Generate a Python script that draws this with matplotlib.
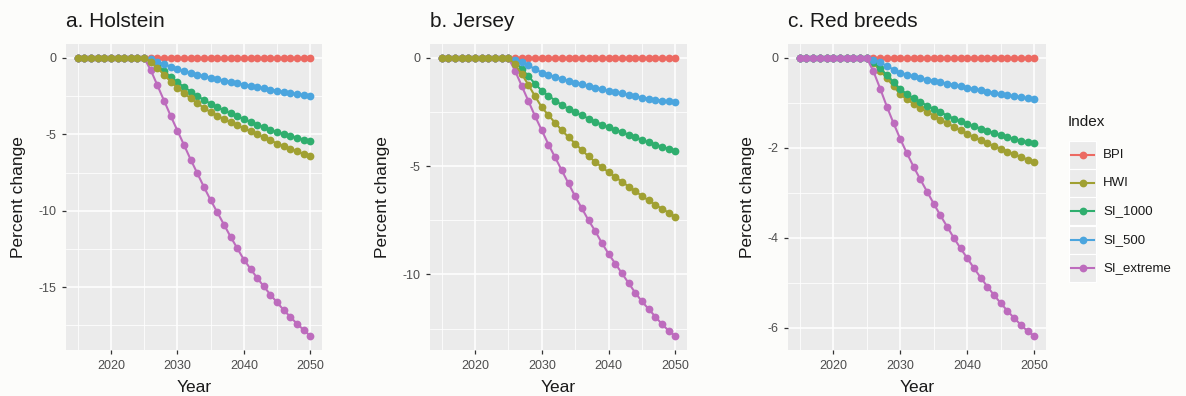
import matplotlib.pyplot as plt
from matplotlib.patches import Rectangle
from matplotlib.ticker import FixedLocator, FuncFormatter

plt.rcParams["font.family"] = ["Liberation Sans", "DejaVu Sans"]
plt.rcParams["axes.unicode_minus"] = False

# ── data (percent change by year) ──────────────────────────────────
years = list(range(2015, 2051))
flat = [0.0] * 11          # 2015-2025, every index at 0

indices = ["BPI", "HWI", "SI_1000", "SI_500", "SI_extreme"]

hol_bpi = [0.0] * 36
hol_hwi = flat + [-0.25, -0.65, -1.10, -1.55, -1.95, -2.30, -2.65, -2.97, -3.27, -3.55,
                  -3.78, -4.00, -4.20, -4.40, -4.60, -4.80, -5.00, -5.20, -5.40, -5.60,
                  -5.78, -5.95, -6.12, -6.29, -6.45]
hol_si1000 = flat + [-0.20, -0.50, -0.85, -1.25, -1.60, -1.90, -2.20, -2.50, -2.75, -3.00,
                     -3.22, -3.43, -3.63, -3.82, -4.00, -4.18, -4.36, -4.53, -4.70, -4.85,
                     -4.98, -5.10, -5.22, -5.34, -5.45]
hol_si500 = flat + [-0.10, -0.25, -0.40, -0.58, -0.75, -0.87, -0.98, -1.09, -1.20, -1.30,
                    -1.39, -1.48, -1.57, -1.66, -1.75, -1.83, -1.91, -1.99, -2.07, -2.15,
                    -2.22, -2.29, -2.36, -2.43, -2.50]
hol_extreme = flat + [-0.80, -1.80, -2.80, -3.80, -4.75, -5.70, -6.65, -7.55, -8.45, -9.30,
                      -10.10, -10.90, -11.70, -12.45, -13.20, -13.80, -14.40, -14.95, -15.50,
                      -16.00, -16.50, -16.95, -17.40, -17.80, -18.20]

jer_bpi = [0.0] * 36
jer_hwi = flat + [-0.30, -0.75, -1.25, -1.78, -2.28, -2.65, -3.00, -3.35, -3.66, -3.96,
                  -4.26, -4.55, -4.80, -5.05, -5.28, -5.50, -5.72, -5.94, -6.15, -6.38,
                  -6.58, -6.78, -6.97, -7.15, -7.35]
jer_si1000 = flat + [-0.20, -0.50, -0.85, -1.20, -1.52, -1.75, -1.97, -2.18, -2.35, -2.51,
                     -2.66, -2.80, -2.95, -3.08, -3.20, -3.32, -3.43, -3.55, -3.67, -3.78,
                     -3.90, -4.00, -4.10, -4.20, -4.30]
jer_si500 = flat + [-0.08, -0.20, -0.35, -0.52, -0.68, -0.78, -0.88, -0.97, -1.06, -1.14,
                    -1.22, -1.30, -1.38, -1.45, -1.52, -1.58, -1.64, -1.70, -1.77, -1.83,
                    -1.88, -1.93, -1.97, -2.01, -2.05]
jer_extreme = flat + [-0.60, -1.30, -2.00, -2.70, -3.35, -4.00, -4.60, -5.20, -5.80, -6.40,
                      -6.95, -7.50, -8.00, -8.55, -9.05, -9.50, -9.95, -10.40, -10.85, -11.25,
                      -11.60, -11.95, -12.30, -12.60, -12.85]

red_bpi = [0.0] * 36
red_hwi = flat + [-0.12, -0.28, -0.45, -0.63, -0.81, -0.92, -1.02, -1.11, -1.20, -1.28,
                  -1.37, -1.45, -1.53, -1.61, -1.69, -1.76, -1.83, -1.90, -1.96, -2.02,
                  -2.08, -2.14, -2.20, -2.26, -2.31]
red_si1000 = flat + [-0.10, -0.23, -0.38, -0.54, -0.70, -0.80, -0.90, -0.98, -1.06, -1.14,
                     -1.21, -1.28, -1.35, -1.41, -1.47, -1.52, -1.57, -1.62, -1.67, -1.72,
                     -1.76, -1.80, -1.84, -1.87, -1.90]
red_si500 = flat + [-0.04, -0.10, -0.18, -0.26, -0.33, -0.37, -0.41, -0.45, -0.48, -0.51,
                    -0.54, -0.57, -0.60, -0.63, -0.66, -0.69, -0.72, -0.75, -0.78, -0.81,
                    -0.83, -0.85, -0.87, -0.90, -0.92]
red_extreme = flat + [-0.30, -0.68, -1.08, -1.45, -1.80, -2.12, -2.42, -2.70, -2.97, -3.24,
                      -3.50, -3.75, -4.00, -4.23, -4.45, -4.67, -4.88, -5.08, -5.27, -5.45,
                      -5.62, -5.78, -5.93, -6.07, -6.18]

titles = ["a. Holstein", "b. Jersey", "c. Red breeds"]
y_ticks = [[0, -5, -10, -15], [0, -5, -10], [0, -2, -4, -6]]
x_ticks = [2020, 2030, 2040, 2050]

colors = {"BPI": "#ec6a62", "HWI": "#a0a032", "SI_1000": "#2fae6e",
          "SI_500": "#4ba5de", "SI_extreme": "#bd6cbd"}

panels = [
    {"BPI": hol_bpi, "HWI": hol_hwi, "SI_1000": hol_si1000, "SI_500": hol_si500, "SI_extreme": hol_extreme},
    {"BPI": jer_bpi, "HWI": jer_hwi, "SI_1000": jer_si1000, "SI_500": jer_si500, "SI_extreme": jer_extreme},
    {"BPI": red_bpi, "HWI": red_hwi, "SI_1000": red_si1000, "SI_500": red_si500, "SI_extreme": red_extreme},
]
# draw order (last on top) - olive sits on top in a and b, pink in c
orders = [["BPI", "SI_1000", "SI_500", "SI_extreme", "HWI"],
          ["BPI", "SI_1000", "SI_500", "SI_extreme", "HWI"],
          ["BPI", "HWI", "SI_1000", "SI_500", "SI_extreme"]]

# panel boxes in pixels: left, right, top, bottom
boxes = [(66, 322, 44, 350), (430, 687, 44, 350), (788, 1046, 44, 350)]

W, H = 1186, 396
fig = plt.figure(figsize=(W / 100, H / 100), dpi=100)
fig.patch.set_facecolor("#fcfcfa")

for i, (l, r, t, b) in enumerate(boxes):
    ax = fig.add_axes([l / W, 1 - b / H, (r - l) / W, (b - t) / H])
    ax.set_facecolor("#ebebeb")
    for k in orders[i]:
        ax.plot(years, panels[i][k], color=colors[k], lw=1.5, marker="o",
                ms=5.6, mew=0, zorder=3)

    yt = y_ticks[i]
    step = yt[0] - yt[1]
    ax.yaxis.set_major_locator(FixedLocator(yt))
    ax.yaxis.set_minor_locator(FixedLocator([v - step / 2 for v in yt]))
    ax.xaxis.set_major_locator(FixedLocator(x_ticks))
    ax.xaxis.set_minor_locator(FixedLocator([2015, 2025, 2035, 2045]))
    ax.yaxis.set_major_formatter(FuncFormatter(lambda v, p: f"{v:g}"))
    ax.grid(which="major", color="white", lw=1.1)
    ax.grid(which="minor", color="white", lw=0.55)
    ax.set_axisbelow(True)
    for s in ax.spines.values():
        s.set_visible(False)
    ax.tick_params(which="major", length=3, width=0.9, color="#333333",
                   labelcolor="#4d4d4d", labelsize=9, pad=4)
    ax.tick_params(which="minor", length=0)

    ax.set_xlabel("Year", fontsize=12.5, color="#1a1a1a", labelpad=6)
    ax.set_ylabel("Percent change", fontsize=12.5, color="#1a1a1a", labelpad=9)
    ax.set_title(titles[i], loc="left", fontsize=15, color="#1a1a1a", pad=12)

# ── legend (ggplot style, keys on grey tiles) ──────────────────────
lax = fig.add_axes([0, 0, 1, 1], facecolor="none")
lax.set_xlim(0, W)
lax.set_ylim(H, 0)
lax.axis("off")
lax.text(1068, 122, "Index", fontsize=11, color="#1a1a1a", va="center")
for j, k in enumerate(indices):
    yc = 155 + j * 28.2
    lax.add_patch(Rectangle((1069, yc - 14), 27, 28, facecolor="#ebebeb",
                            edgecolor="white", lw=0.8))
    lax.plot([1071, 1094], [yc, yc], color=colors[k], lw=1.5)
    lax.plot([1082.5], [yc], color=colors[k], marker="o", ms=5.6, mew=0)
    lax.text(1103, yc, k, fontsize=9.5, color="#1a1a1a", va="center")

fig.savefig("out.png", dpi=100, facecolor=fig.get_facecolor())
